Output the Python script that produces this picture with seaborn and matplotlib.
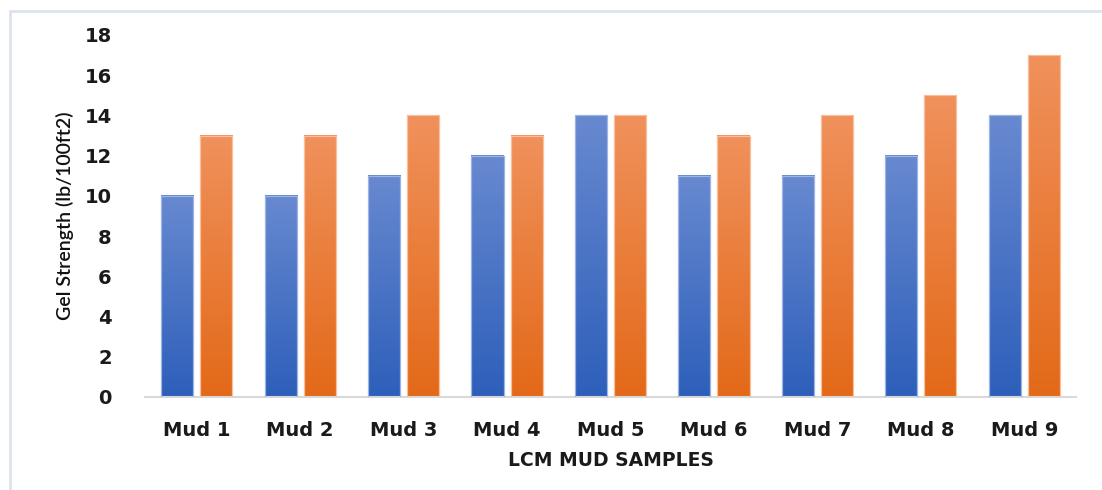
import matplotlib
matplotlib.use('Agg')
import matplotlib.pyplot as plt
from matplotlib.colors import LinearSegmentedColormap
from matplotlib.lines import Line2D
import seaborn as sns
import pandas as pd
import numpy as np

# chart data
samples = ["Mud 1", "Mud 2", "Mud 3", "Mud 4", "Mud 5", "Mud 6", "Mud 7", "Mud 8", "Mud 9"]
gel_10s = [10, 10, 11, 12, 14, 11, 11, 12, 14]
gel_10m = [13, 13, 14, 13, 14, 13, 14, 15, 17]
y_ticks = [0, 2, 4, 6, 8, 10, 12, 14, 16, 18]

df = pd.DataFrame({"sample": samples, "10 sec": gel_10s, "10 min": gel_10m})
long_df = df.melt(id_vars="sample", var_name="series", value_name="gel")

sns.set_style("white")
plt.rcParams['font.family'] = ['DejaVu Sans']

W, H = 1102, 490
fig = plt.figure(figsize=(W / 100, H / 100), dpi=100)
ax = fig.add_axes([145 / W, 1 - 397 / H, (1076 - 145) / W, (397 - 35) / H])

sns.barplot(data=long_df, x="sample", y="gel", hue="series", order=samples,
            width=0.756, gap=0.18, legend=False, ax=ax,
            palette=["#4472c4", "#ed7d31"])

# gradient fills (light at top, dark at bottom), per bar
grads = [("#2d5fba", "#6889d0", "#9db4e4"), ("#e36918", "#f0915c", "#f9bf9a")]
grad = np.linspace(0, 1, 256).reshape(-1, 1)
for cont, (bot, top, edge) in zip(ax.containers, grads):
    cmap = LinearSegmentedColormap.from_list("g", [bot, top])
    for bar in cont:
        x0, w, h = bar.get_x(), bar.get_width(), bar.get_height()
        ax.imshow(grad, extent=(x0, x0 + w, 0, h), origin="lower", cmap=cmap,
                  aspect="auto", zorder=2)
        bar.set_facecolor("none")
        bar.set_edgecolor(edge)
        bar.set_linewidth(0.9)
        bar.set_zorder(3)

ax.set_xlim(-0.5, len(samples) - 0.5)
ax.set_ylim(0, 18)
ax.set_yticks(y_ticks)
ax.tick_params(axis="both", length=0, labelsize=14, colors="#1a1a1a")
ax.tick_params(axis="y", pad=24)
ax.tick_params(axis="x", pad=17)
for lab in ax.get_xticklabels() + ax.get_yticklabels():
    lab.set_fontweight("bold")

for s in ["top", "right", "left"]:
    ax.spines[s].set_visible(False)
ax.spines["bottom"].set_color("#d9d9d9")
ax.spines["bottom"].set_linewidth(1.5)

ax.set_ylabel("")
ax.set_xlabel("LCM MUD SAMPLES", fontsize=13.5, fontweight="bold", color="#1a1a1a", labelpad=8)
fig.text(65 / W, 1 - 216 / H, "Gel Strength (lb/100ft2)", rotation=90, ha="center",
         va="center", fontsize=14, fontweight="semibold", family=["Lato", "DejaVu Sans"],
         color="#111111")

# light chart frame
fig.add_artist(Line2D([10 / W, 10 / W], [0, 1 - 11 / H], color="#dde3ec", lw=2, transform=fig.transFigure))
fig.add_artist(Line2D([10 / W, 1], [1 - 11 / H, 1 - 11 / H], color="#dde3ec", lw=2, transform=fig.transFigure))

fig.savefig("out.png", dpi=100, facecolor="white")
plt.close(fig)
